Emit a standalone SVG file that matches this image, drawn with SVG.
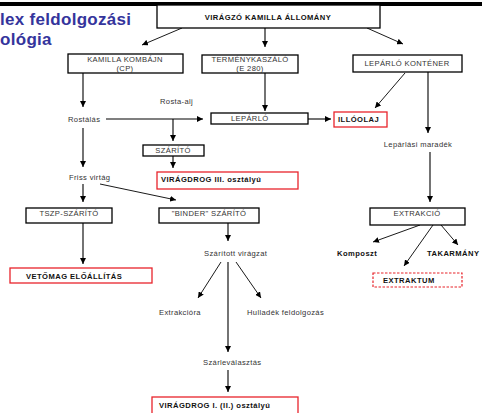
<svg xmlns="http://www.w3.org/2000/svg" width="482" height="413" viewBox="0 0 482 413">
<style>
.box{fill:#fff;stroke:#000;stroke-width:1.3}
.red{fill:#fff;stroke:#e8242b;stroke-width:1.3}
.dash{fill:#fff;stroke:#e8242b;stroke-width:1.2;stroke-dasharray:2.5 1.5}
.t{font-family:"Liberation Sans",Arial,sans-serif;font-size:7.6px;fill:#333;letter-spacing:0.35px}
.b{font-family:"Liberation Sans",Arial,sans-serif;font-size:7.6px;font-weight:bold;fill:#111;letter-spacing:0.45px}
.c{text-anchor:middle}
.title{font-family:"Liberation Sans",Arial,sans-serif;font-size:17px;font-weight:bold;fill:#34349c;letter-spacing:0.3px}
.ln{stroke:#000;stroke-width:1.1;fill:none;marker-end:url(#ah)}
.ld{stroke:#000;stroke-width:0.9;fill:none;marker-end:url(#ah)}
</style>
<defs>
<marker id="ah" viewBox="0 0 10 10" refX="10" refY="5" markerWidth="6" markerHeight="6" markerUnits="userSpaceOnUse" orient="auto">
<path d="M0,0 L10,5 L0,10 z" fill="#000"/>
</marker>
</defs>
<rect x="0" y="0" width="482" height="413" fill="#fff"/>
<rect x="0" y="2" width="482" height="4" fill="#000"/>
<g id="title">
<text class="title" x="0" y="25">lex feldolgozási</text>
<text class="title" x="0" y="45">ológia</text>
</g>
<g id="connectors">
<line class="ld" x1="182" y1="28" x2="142" y2="45"/>
<line class="ln" x1="265" y1="28" x2="265" y2="47"/>
<line class="ld" x1="367" y1="28" x2="403" y2="44"/>
<line class="ln" x1="83" y1="73" x2="83" y2="107"/>
<line class="ln" x1="265" y1="73" x2="265" y2="111"/>
<line class="ld" x1="405" y1="73" x2="375" y2="108"/>
<line class="ln" x1="428" y1="72" x2="428" y2="133"/>
<line class="ln" x1="106" y1="119" x2="203" y2="119"/>
<line class="ln" x1="173" y1="119" x2="173" y2="141"/>
<line class="ln" x1="308" y1="119" x2="331" y2="119"/>
<line class="ln" x1="173" y1="156" x2="173" y2="168"/>
<line class="ln" x1="83" y1="128" x2="83" y2="167"/>
<line class="ln" x1="430" y1="152" x2="430" y2="202"/>
<line class="ln" x1="83" y1="184" x2="83" y2="202"/>
<line class="ld" x1="100" y1="184" x2="176" y2="200"/>
<line class="ln" x1="83" y1="223" x2="83" y2="264"/>
<line class="ln" x1="228" y1="223" x2="228" y2="241"/>
<line class="ld" x1="420" y1="225" x2="373" y2="242"/>
<line class="ld" x1="433" y1="225" x2="404" y2="266"/>
<line class="ld" x1="441" y1="225" x2="458" y2="245"/>
<line class="ld" x1="221" y1="262" x2="198" y2="298"/>
<line class="ln" x1="228" y1="262" x2="228" y2="352"/>
<line class="ld" x1="236" y1="262" x2="261" y2="298"/>
<line class="ln" x1="228" y1="370" x2="228" y2="392"/>
</g>
<g id="n-viragzo">
<rect class="box" x="157" y="5" width="223" height="23"/>
<text class="b c" x="268" y="20">VIRÁGZÓ KAMILLA ÁLLOMÁNY</text>
</g>
<g id="n-kombajn">
<rect class="box" x="68" y="54" width="115" height="19"/>
<text class="t c" x="125" y="62">KAMILLA KOMBÁJN</text>
<text class="t c" x="125" y="71">(CP)</text>
</g>
<g id="n-termeny">
<rect class="box" x="202" y="55" width="96" height="18"/>
<text class="t c" x="250" y="62">TERMÉNYKASZÁLÓ</text>
<text class="t c" x="250" y="71">(E 280)</text>
</g>
<g id="n-kontener">
<rect class="box" x="353" y="55" width="109" height="17"/>
<text class="t c" x="407" y="66">LEPÁRLÓ KONTÉNER</text>
</g>
<g id="n-rostaalj"><text class="t" x="160" y="104">Rosta-alj</text></g>
<g id="n-rostalas"><text class="t" x="68" y="122">Rostálás</text></g>
<g id="n-leparlo">
<rect class="box" x="211" y="113" width="97" height="11"/>
<text class="t" x="231" y="121">LEPÁRLÓ</text>
</g>
<g id="n-illoolaj">
<rect class="red" x="334" y="112" width="53" height="15"/>
<text class="b" x="338" y="122">ILLÓOLAJ</text>
</g>
<g id="n-maradek"><text class="t c" x="418" y="147">Lepárlási maradék</text></g>
<g id="n-szarito">
<rect class="box" x="143" y="145" width="61" height="11"/>
<text class="t c" x="173" y="153">SZÁRÍTÓ</text>
</g>
<g id="n-virag3">
<rect class="red" x="157" y="172" width="141" height="17"/>
<text class="b" x="161" y="182">VIRÁGDROG III. osztályú</text>
</g>
<g id="n-friss"><text class="t" x="69" y="180">Friss virtág</text></g>
<g id="n-tszp">
<rect class="box" x="26" y="208" width="86" height="15"/>
<text class="t c" x="69" y="216">TSZP-SZÁRÍTÓ</text>
</g>
<g id="n-binder">
<rect class="box" x="159" y="208" width="100" height="15"/>
<text class="t c" x="209" y="216">"BINDER" SZÁRÍTÓ</text>
</g>
<g id="n-extrakcio">
<rect class="box" x="370" y="208" width="95" height="17"/>
<text class="t c" x="417" y="216">EXTRAKCIÓ</text>
</g>
<g id="n-szaritott"><text class="t" x="204" y="256">Szárított virágzat</text></g>
<g id="n-komposzt"><text class="b" x="337" y="256">Komposzt</text></g>
<g id="n-takarmany"><text class="b" x="427" y="256">TAKARMÁNY</text></g>
<g id="n-vetomag">
<rect class="red" x="10" y="268" width="142" height="15"/>
<text class="b" x="26" y="279">VETŐMAG ELŐÁLLÍTÁS</text>
</g>
<g id="n-extraktum">
<rect class="dash" x="373" y="273" width="89" height="14"/>
<text class="b" x="383" y="283">EXTRAKTUM</text>
</g>
<g id="n-extrakciora"><text class="t" x="159" y="315">Extrakcióra</text></g>
<g id="n-hulladek"><text class="t" x="247" y="315">Hulladék feldolgozás</text></g>
<g id="n-szarlevalasztas"><text class="t" x="203" y="365">Szárleválasztás</text></g>
<g id="n-virag1">
<rect class="red" x="152" y="397" width="146" height="20"/>
<text class="b" x="159" y="408">VIRÁGDROG I. (II.) osztályú</text>
</g>
</svg>
